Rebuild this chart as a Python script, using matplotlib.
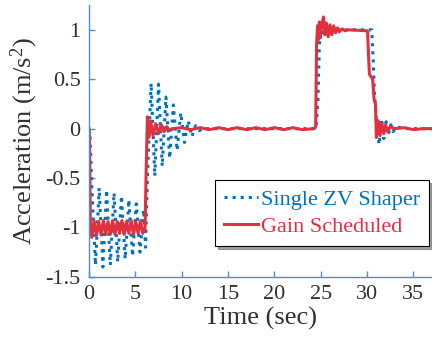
import matplotlib
matplotlib.use('Agg')
import matplotlib.pyplot as plt

plt.rcParams.update({
    'font.family': 'serif',
    'font.serif': ['Liberation Serif', 'DejaVu Serif'],
    'mathtext.fontset': 'custom',
    'mathtext.rm': 'Liberation Serif',
    'mathtext.it': 'Liberation Serif:italic',
})

BLUE = '#0072BD'
RED = '#E2303F'
AXIS = '#4F8FCB'
TEXT = '#303030'

# Single ZV shaper response (peak / trough vertices, seconds vs m/s^2)
zv_t = [0.0, 0.1, 0.3, 0.7, 1.1, 1.5, 1.9, 2.3, 2.7, 3.1, 3.5, 3.9, 4.3,
        4.7, 5.1, 5.5, 5.9, 6.1, 6.3, 6.7, 7.1, 7.5, 7.9, 8.3, 8.7, 9.1,
        9.5, 9.9, 10.3, 10.7, 11.1, 11.5, 11.9, 12.3, 14.0, 16.0, 18.0, 20.0,
        22.0, 24.5, 24.7, 24.85, 25.0, 25.2, 25.4, 25.6, 25.8, 26.0, 26.5,
        27.0, 28.0, 29.0, 30.5, 30.65, 30.8, 31.05, 31.3, 31.55, 31.8, 32.05,
        32.3, 32.55, 32.8, 33.1, 34.0, 35.5, 37.0]
zv_a = [0.0, -0.05, -0.58, -1.38, -0.60, -1.40, -0.62, -1.38, -0.65, -1.35,
        -0.68, -1.32, -0.72, -1.29, -0.76, -1.25, -0.82, -1.20, -0.50, 0.46,
        -0.48, 0.45, -0.38, 0.32, -0.30, 0.24, -0.22, 0.16, -0.14, 0.08,
        -0.08, 0.03, -0.02, 0.0, 0.0, 0.0, 0.0, 0.0, 0.0, 0.0, 0.30, 0.85,
        1.0, 0.97, 1.02, 0.98, 1.01, 0.99, 1.0, 1.0, 1.0, 1.0, 1.0, 0.70,
        0.35, 0.0, -0.16, 0.10, -0.10, 0.07, -0.06, 0.04, -0.03, 0.02, 0.0,
        0.0, 0.0]

# Gain scheduled response
gs_t = [0.0, 0.05, 0.15, 0.3, 0.55, 0.8, 1.05, 1.3, 1.55, 1.8, 2.05, 2.3,
        2.55, 2.8, 3.05, 3.3, 3.55, 3.8, 4.05, 4.3, 4.55, 4.8, 5.05, 5.3,
        5.55, 5.8, 6.05, 6.15, 6.3, 6.45, 6.65, 6.9, 7.2, 7.5, 7.8, 8.1,
        8.4, 8.7, 9.0, 10.0, 11.0, 12.0, 13.0, 14.0, 15.0, 16.0, 17.0, 18.0,
        19.0, 20.0, 21.0, 22.0, 23.0, 24.3, 24.45, 24.55, 24.65, 24.75,
        24.85, 24.95, 25.1, 25.3, 25.45, 25.6, 25.8, 26.0, 26.2, 26.4, 26.6,
        26.8, 27.0, 27.3, 27.6, 28.0, 30.05, 30.15, 30.25, 30.6, 30.75,
        30.9, 31.0, 31.2, 31.4, 31.6, 31.8, 32.0, 32.2, 32.5, 33.0, 34.0,
        35.0, 36.0, 37.0]
gs_a = [0.0, -0.05, -0.93, -1.10, -0.93, -1.08, -0.94, -1.07, -0.93, -1.07,
        -0.94, -1.07, -0.93, -1.07, -0.94, -1.06, -0.93, -1.07, -0.94, -1.06,
        -0.93, -1.07, -0.94, -1.06, -0.93, -1.06, -1.0, -0.5, 0.12, -0.09,
        0.08, -0.07, 0.05, -0.05, 0.04, -0.03, 0.02, -0.02, 0.0, 0.01, -0.01,
        0.01, -0.01, 0.01, -0.01, 0.01, -0.01, 0.01, -0.01, 0.01, -0.01,
        0.01, -0.01, 0.0, 0.02, 0.85, 1.04, 0.90, 1.08, 0.92, 1.05, 1.13,
        0.95, 1.07, 0.93, 1.05, 0.95, 1.04, 0.97, 1.02, 0.98, 1.01, 0.99,
        1.0, 0.99, 0.75, 0.55, 0.50, 0.30, 0.25, -0.09, 0.08, -0.07, 0.05,
        -0.05, 0.04, -0.03, 0.02, 0.0, 0.01, -0.01, 0.0, 0.0]

fig = plt.figure(figsize=(4.32, 3.41), dpi=100)
ax = fig.add_axes([0.206, 0.188, 0.794, 0.797])

ax.plot(zv_t, zv_a, linestyle=':', color=BLUE, linewidth=2.2,
        label='Single ZV Shaper')
ax.plot(gs_t, gs_a, linestyle='-', color=RED, linewidth=2.2,
        label='Gain Scheduled')

ax.set_xlim(0, 37)
ax.set_ylim(-1.5, 1.25)
ax.set_xticks(range(0, 36, 5))
ax.set_yticks([-1.5, -1, -0.5, 0, 0.5, 1])
ax.set_yticklabels(['-1.5', '-1', '-0.5', '0', '0.5', '1'])

for side in ('top', 'right'):
    ax.spines[side].set_visible(False)
for side in ('left', 'bottom'):
    ax.spines[side].set_color(AXIS)
    ax.spines[side].set_linewidth(1.0)

ax.tick_params(direction='in', length=4, width=1.0, color=AXIS,
               labelcolor=TEXT, labelsize=16, pad=6)

ax.set_xlabel('Time (sec)', fontsize=19, color=TEXT, labelpad=2)
ax.set_ylabel(r'Acceleration (m/s$^2$)', fontsize=19, color=TEXT, labelpad=4)

leg = ax.legend(loc='lower right', bbox_to_anchor=(0.99, 0.114),
                fontsize=16, frameon=True, fancybox=False, shadow=True,
                framealpha=1, edgecolor='black', borderaxespad=0,
                handlelength=1.55, handletextpad=0.1, labelspacing=0.3,
                borderpad=0.4, labelcolor='linecolor')
leg.get_frame().set_linewidth(0.8)

fig.savefig('out.png', dpi=100)
